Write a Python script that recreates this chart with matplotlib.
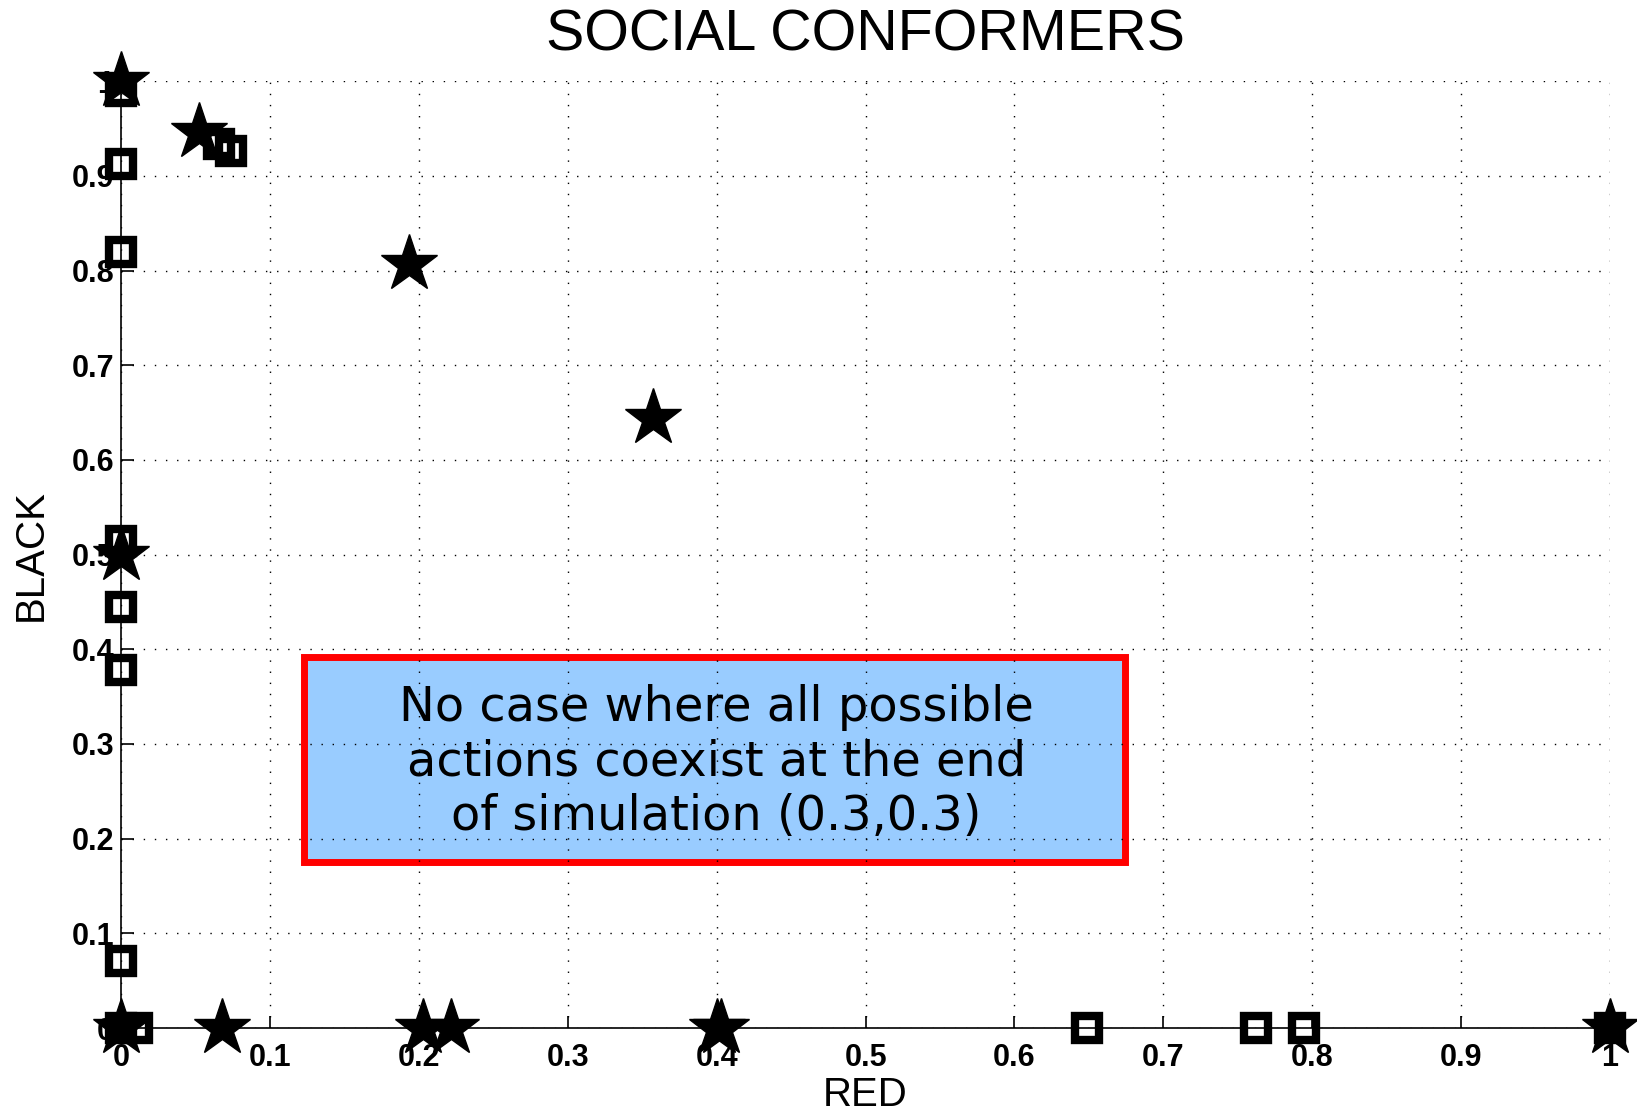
#Gráfico de dispersão: SOCIAL CONFORMERS
import numpy as np
import matplotlib.pyplot as plt
import matplotlib.patches as patches

#Dados (estrelas)
stars_red = [0, 0.052, 0.1935, 0.357, 0, 0, 0.068, 0.2027, 0.2216, 0.400, 0.403, 1.0]
stars_black = [1, 0.946, 0.807, 0.644, 0.5, 0, 0, 0, 0, 0, 0, 0]

#Dados (quadrados)
squares_red = [0, 0.066, 0.074, 0, 0, 0, 0, 0, 0, 0, 0.0105, 0.649, 0.762, 0.7945, 1.0]
squares_black = [0.99, 0.934, 0.926, 0.913, 0.820, 0.514, 0.445, 0.378, 0.0706, 0, 0, 0, 0, 0, 0]

ticks = np.round(np.arange(0, 1.01, 0.1), 1)
tick_labels = ['0', '0.1', '0.2', '0.3', '0.4', '0.5', '0.6', '0.7', '0.8', '0.9', '1']

note = 'No case where all possible\nactions coexist at the end\nof simulation (0.3,0.3)'

fig = plt.figure(figsize=(16.37, 11.12), dpi=100)
ax = fig.add_axes([0.074, 0.0755, 0.9095, 0.8515])

#Caixa de texto
ax.add_patch(patches.Rectangle((0.1229, 0.1753), 0.674 - 0.1229, 0.392 - 0.1753,
                               facecolor='#99ccff', edgecolor='red', linewidth=5, zorder=1))
ax.text(0.40, 0.281, note, ha='center', va='center', fontsize=34.5,
        family='DejaVu Sans', linespacing=1.2, zorder=1.5)

ax.plot(squares_red, squares_black, 's', ms=17, mfc='none', mec='black', mew=6,
        clip_on=False, zorder=3)
ax.plot(stars_red, stars_black, '*', ms=43, mfc='black', mec='black', mew=1,
        clip_on=False, zorder=3)

ax.set_xlim(0, 1)
ax.set_ylim(0, 1)
ax.spines['top'].set_visible(False)
ax.spines['right'].set_visible(False)
ax.spines['left'].set_linewidth(1.2)
ax.spines['bottom'].set_linewidth(1.2)

ax.set_xticks(ticks)
ax.set_xticklabels(tick_labels, fontsize=22, fontweight='bold', family='Liberation Sans')
ax.set_yticks(ticks)
ax.set_yticklabels(tick_labels, fontsize=22, fontweight='bold', family='Liberation Sans')
ax.tick_params(direction='in', length=9, width=1.2)
ax.tick_params(axis='x', pad=11)
ax.tick_params(axis='y', pad=5)

ax.grid(True, color='black', linestyle=(0, (1, 7)), linewidth=1)

ax.set_xlabel('RED', fontsize=29, family='Liberation Sans')
ax.set_ylabel('BLACK', fontsize=29, family='Liberation Sans')
ax.xaxis.set_label_coords(0.5, -0.051)
ax.yaxis.set_label_coords(-0.048, 0.5)
ax.set_title('SOCIAL CONFORMERS', fontsize=41.3, family='Liberation Sans', pad=22)

fig.savefig('out.png', dpi=100)
